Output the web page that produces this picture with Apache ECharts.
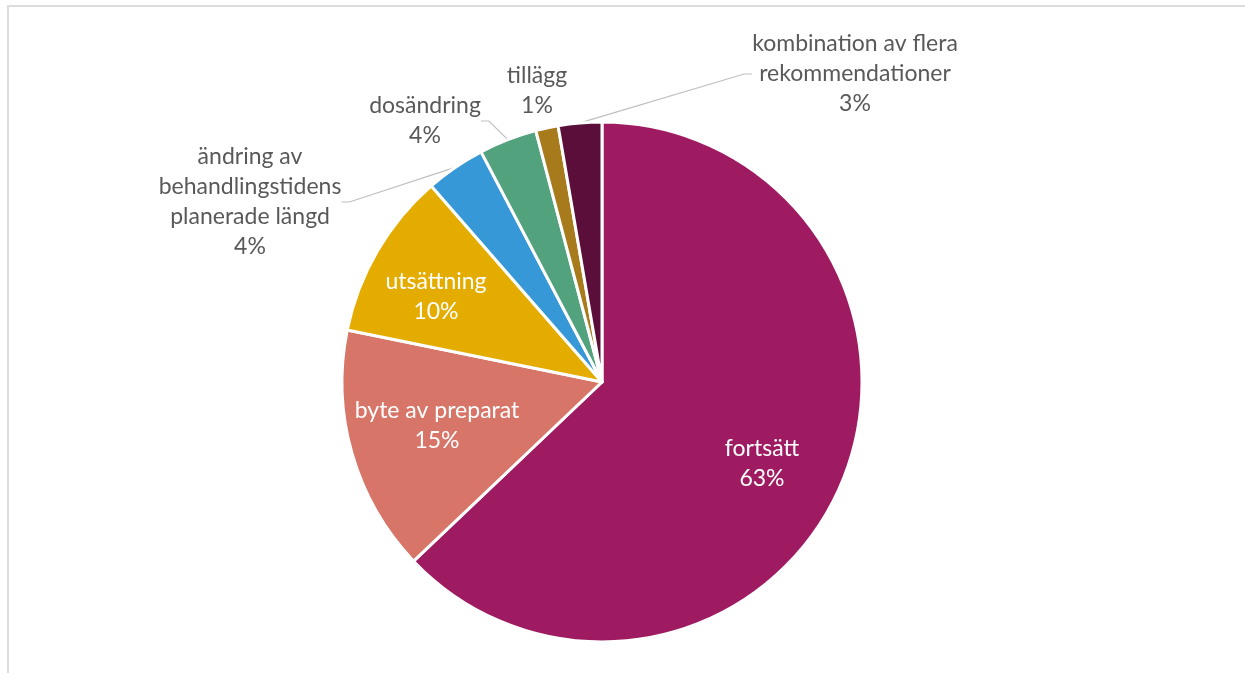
<!DOCTYPE html>
<html>
<head>
<meta charset="utf-8">
<script src="https://cdn.jsdelivr.net/npm/echarts@6/dist/echarts.min.js"></script>
<style>
  html, body { margin: 0; padding: 0; background: #ffffff; }
  #chart { width: 1245px; height: 673px; }
</style>
</head>
<body>
<div id="chart"></div>
<script>
// Andel av rekommendationerna per typ (procent)
const categories = [
  'fortsätt',
  'byte av preparat',
  'utsättning',
  'ändring av\nbehandlingstidens\nplanerade längd',
  'dosändring',
  'tillägg',
  'kombination av flera\nrekommendationer'
];
const shares = [62.9, 15.3, 10.4, 3.7, 3.6, 1.4, 2.7];

// Presentation settings
const sliceColors = ['#9E1A61', '#D77668', '#E5AC00', '#3698D6', '#53A27E', '#A77A1B', '#5C0E3B'];
const insideLabel = [true, true, true, false, false, false, false];
const showGuide = [false, false, false, true, true, false, true];
// centre of each label block, in pixels
const labelSpots = [[762, 464], [437, 426], [436, 297], [250, 202], [425, 121], [537, 91], [855, 74]];

const FONT = 'Lato';

const pieData = categories.map((name, i) => ({
  name: name,
  value: shares[i],
  itemStyle: { color: sliceColors[i] },
  label: { color: insideLabel[i] ? '#ffffff' : '#595959' },
  labelLine: { show: showGuide[i] }
}));

const chart = echarts.init(document.getElementById('chart'), null, { renderer: 'canvas' });

chart.setOption({
  animation: false,
  backgroundColor: '#ffffff',
  graphic: [{
    type: 'rect',
    silent: true,
    z: -10,
    shape: { x: 8, y: 6, width: 1400, height: 800 },
    style: { fill: 'none', stroke: '#dcdcdc', lineWidth: 2 }
  }],
  series: [{
    type: 'pie',
    center: [602, 382],
    radius: 260,
    startAngle: 90,
    clockwise: true,
    avoidLabelOverlap: false,
    percentPrecision: 0,
    itemStyle: { borderColor: '#ffffff', borderWidth: 3 },
    label: {
      show: true,
      position: 'outside',
      formatter: '{b}\n{d}%',
      fontFamily: FONT,
      fontSize: 23,
      lineHeight: 30,
      align: 'center'
    },
    labelLine: {
      length: 10,
      length2: 8,
      lineStyle: { color: '#bfbfbf', width: 1.2 }
    },
    labelLayout: function (params) {
      const p = labelSpots[params.dataIndex];
      return { x: p[0], y: p[1], align: 'center', verticalAlign: 'middle' };
    },
    emphasis: { disabled: true },
    data: pieData
  }]
});
</script>
</body>
</html>
